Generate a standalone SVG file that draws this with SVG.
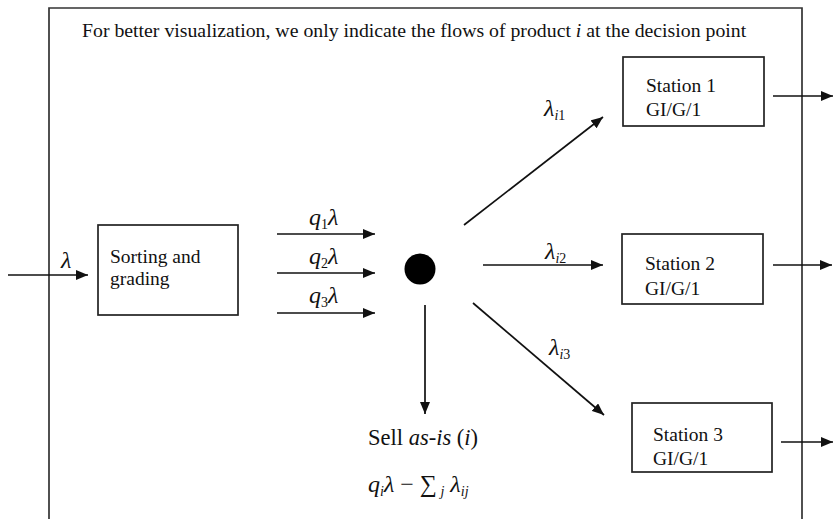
<svg xmlns="http://www.w3.org/2000/svg" width="833" height="519" viewBox="0 0 833 519">
<defs>
<marker id="ah" viewBox="0 0 12 10" refX="12" refY="5" markerWidth="12" markerHeight="10" markerUnits="userSpaceOnUse" orient="auto">
<path d="M0,0 L12,5 L0,10 Z" fill="#111"/>
</marker>
</defs>
<style>
text{font-family:"Liberation Serif","Times New Roman",serif;fill:#111}
.t{font-size:19.5px}
.m{font-size:24px;font-style:italic}
.s{font-size:14px}
.box{fill:#fff;stroke:#222;stroke-width:1.7}
.c{stroke:#111;stroke-width:1.7;fill:none;marker-end:url(#ah)}
.frame{stroke:#333;stroke-width:1.7;fill:none}
</style>
<rect width="833" height="519" fill="#fff"/>
<path class="frame" d="M49,519 L49,8 L802,8 L802,519"/>
<text class="t" x="82" y="37" style="font-size:19.8px">For better visualization, we only indicate the flows of product <tspan font-style="italic">i</tspan> at the decision point</text>

<g id="connectors">
<line class="c" x1="8" y1="275" x2="88" y2="275"/>
<line class="c" x1="277" y1="234" x2="375" y2="234"/>
<line class="c" x1="277" y1="273" x2="375" y2="273"/>
<line class="c" x1="277" y1="313" x2="375" y2="313"/>
<line class="c" x1="464" y1="225" x2="603" y2="117"/>
<line class="c" x1="483" y1="265" x2="603" y2="265"/>
<line class="c" x1="473" y1="303" x2="604" y2="415"/>
<line class="c" x1="425" y1="305" x2="425" y2="414"/>
<line class="c" x1="773" y1="96" x2="833" y2="96"/>
<line class="c" x1="773" y1="265" x2="832" y2="265"/>
<line class="c" x1="781" y1="442" x2="833" y2="442"/>
</g>

<g id="labels">
<text class="m" x="61" y="268">λ</text>
<text class="m" x="309" y="225">q<tspan class="s" dy="4" font-style="normal">1</tspan><tspan dy="-4">λ</tspan></text>
<text class="m" x="309" y="264">q<tspan class="s" dy="4" font-style="normal">2</tspan><tspan dy="-4">λ</tspan></text>
<text class="m" x="309" y="303">q<tspan class="s" dy="4" font-style="normal">3</tspan><tspan dy="-4">λ</tspan></text>
<text class="m" x="544" y="116">λ<tspan class="s" dy="4">i</tspan><tspan class="s" font-style="normal">1</tspan></text>
<text class="m" x="545" y="259">λ<tspan class="s" dy="4">i</tspan><tspan class="s" font-style="normal">2</tspan></text>
<text class="m" x="549" y="355">λ<tspan class="s" dy="4">i</tspan><tspan class="s" font-style="normal">3</tspan></text>
</g>

<g id="sorting">
<rect class="box" x="98" y="225" width="140" height="90"/>
<text class="t" x="110" y="263">Sorting and</text>
<text class="t" x="110" y="285">grading</text>
</g>

<g id="decision">
<circle cx="420" cy="269" r="15.5" fill="#000"/>
</g>

<g id="station1">
<rect class="box" x="623" y="57" width="141" height="69"/>
<text class="t" x="646" y="92">Station 1</text>
<text class="t" x="646" y="116">GI/G/1</text>
</g>

<g id="station2">
<rect class="box" x="622" y="234" width="141" height="70"/>
<text class="t" x="645" y="270">Station 2</text>
<text class="t" x="645" y="295">GI/G/1</text>
</g>

<g id="station3">
<rect class="box" x="632" y="403" width="140" height="69"/>
<text class="t" x="653" y="441">Station 3</text>
<text class="t" x="653" y="465">GI/G/1</text>
</g>

<g id="sell">
<text class="t" x="368" y="445" style="font-size:22.5px">Sell <tspan font-style="italic">as-is</tspan> (<tspan font-style="italic">i</tspan>)</text>
<text class="m" x="368" y="492">q<tspan class="s" dy="4">i</tspan><tspan dy="-4">λ</tspan><tspan font-style="normal"> − ∑</tspan><tspan class="s" dy="4"> j</tspan><tspan dy="-4"> λ</tspan><tspan class="s" dy="4">ij</tspan></text>
</g>
</svg>
